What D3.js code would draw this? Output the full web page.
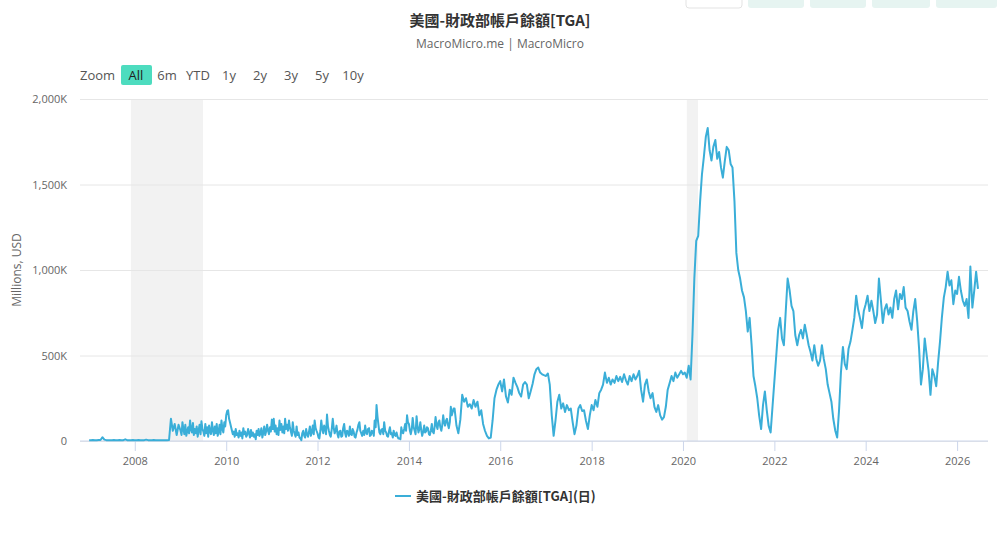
<!DOCTYPE html>
<html>
<head>
<meta charset="utf-8">
<script src="https://d3js.org/d3.v7.min.js"></script>
<style>
  body { margin: 0; background: #fff; }
  svg { display: block; font-family: "Noto Sans CJK TC", "Open Sans", sans-serif; }
</style>
</head>
<body>
<svg id="chart"></svg>
<script>
// readings in billions (K of millions); 24 values = half-monthly, 48 = weekly
var tga2007 = [5,5,6,5,5,6,6,22,8,5,5,5,5,6,5,5,6,5,5,10,5,5,5,6];
var tga2008 = [5,5,6,5,5,5,8,5,5,5,6,5,5,5,5,5,5,5,6,130,60,100,35,95];
var tga2009 = [60,35,110,70,40,95,30,55,80,45,120,65,50,105,35,70,45,85,25,60,95,40,115,70,
               55,30,100,45,80,25,90,55,40,110,60,35,85,45,100,30,55,95,40,120,70,50,110,85];
var tga2010 = [150,175,180,130,110,85,60,40,55,25,70,35,45,20,60,30,50,15,75,40,55,25,35,70,
               45,20,65,30,50,25,40,10,60,35,70,30,45,75,20,50,85,35,55,95,60,40,80,55];
var tga2011 = [125,70,130,55,90,40,75,35,120,65,100,50,85,45,130,70,95,60,120,80,55,30,110,60,
               40,25,85,35,50,20,15,5,45,60,30,20,70,40,25,55,85,30,50,90,40,120,75,60];
var tga2012 = [45,20,15,60,120,70,45,90,75,40,155,85,60,35,25,70,130,80,45,60,90,40,20,55,
               60,25,30,75,100,45,25,60,55,30,85,40,35,70,55,25,20,50,65,95,110,60,45,30];
var tga2013 = [60,35,90,50,40,70,75,30,35,60,55,30,120,80,210,140,90,50,40,65,70,40,110,60,
               50,30,25,55,80,40,45,20,60,35,30,50,25,15,15,10,80,50,45,70,100,60,150,110];
var tga2014 = [100,60,40,70,135,80,60,40,145,90,50,70,110,60,30,55,90,50,55,80,75,40,35,60,
               100,55,45,80,140,90,70,110,120,80,60,90,150,110,90,120,130,95,75,110,200,150,170,190];
var tga2015 = [190,90,45,125,270,230,250,200,215,190,240,200,230,150,180,100,60,30,15,20,120,250,300,330];
var tga2016 = [350,290,360,260,225,300,270,370,340,315,280,260,330,345,330,250,290,335,390,420,430,400,390,385];
var tga2017 = [380,395,330,150,30,120,230,270,190,220,170,210,180,190,110,40,90,190,210,175,180,120,70,150];
var tga2018 = [210,180,240,200,280,300,330,400,340,370,330,360,340,380,350,375,345,390,355,330,380,350,390,360];
var tga2019 = [380,410,300,230,330,360,290,250,280,200,170,210,150,125,140,200,300,340,380,350,400,370,390,410];
var tga2020 = [390,400,370,440,360,620,950,1170,1200,1400,1560,1660,1780,1830,1700,1640,1720,1760,1650,1690,1600,1540,1640,1720];
var tga2021 = [1700,1620,1600,1400,1100,1000,950,880,840,760,640,720,560,380,320,250,150,70,210,290,180,90,50,200];
var tga2022 = [350,500,650,720,600,560,760,950,880,790,760,620,560,620,650,600,680,620,560,520,470,560,480,440];
var tga2023 = [470,560,480,420,330,280,230,130,60,20,180,400,550,450,420,540,580,650,720,850,770,720,660,760];
var tga2024 = [800,850,760,820,760,690,740,950,820,690,770,800,740,780,720,830,880,770,860,830,900,780,760,700];
var tga2025 = [650,760,830,700,540,330,420,600,500,410,270,420,380,320,460,580,720,840,900,990,910,940,800,880];
var tga2026 = [860,960,880,820,790,830,720,1020,780,880,990,890];

var years = [2007,2008,2009,2010,2011,2012,2013,2014,2015,2016,2017,2018,2019,2020,2021,2022,2023,2024,2025,2026];
var yearValues = [tga2007,tga2008,tga2009,tga2010,tga2011,tga2012,tga2013,tga2014,tga2015,tga2016,
                  tga2017,tga2018,tga2019,tga2020,tga2021,tga2022,tga2023,tga2024,tga2025,tga2026];

var recessions = [["2007-12-01","2009-06-30"],["2020-02-01","2020-04-30"]];
var yTicks = [0, 500, 1000, 1500, 2000];
var xTickYears = [2008,2010,2012,2014,2016,2018,2020,2022,2024,2026];
var zoomButtons = ["All","6m","YTD","1y","2y","3y","5y","10y"];

var title = "美國-財政部帳戶餘額[TGA]";
var subtitle = "MacroMicro.me | MacroMicro";
var seriesName = "美國-財政部帳戶餘額[TGA](日)";

// build the table: values spread evenly through each year
var data = [];
years.forEach(function (yr, k) {
    var vals = yearValues[k];
    var step = vals.length === 48 ? 365 / 48 : 365 / 24;
    vals.forEach(function (v, i) {
        data.push({date: d3.timeDay.offset(new Date(yr, 0, 1), Math.round(i * step)), value: v});
    });
});

var width = 1000, height = 543;
var margin = {left: 80, right: 12, top: 99, bottom: 102};
var lineColor = "#3aaed8";

var svg = d3.select("#chart").attr("width", width).attr("height", height);

var x = d3.scaleTime()
    .domain([new Date(2006, 9, 20), new Date(2026, 8, 5)])
    .range([margin.left, width - margin.right]);
var y = d3.scaleLinear()
    .domain([0, 2000])
    .range([height - margin.bottom, margin.top]);

// top right toolbar remnants
var tb = [[686, 56, "#fff", "#e3e3e3"], [748, 56, "#e6f4f1", "none"], [810, 56, "#e6f4f1", "none"],
          [872, 58, "#e6f4f1", "none"], [936, 61, "#e6f4f1", "none"]];
svg.selectAll("rect.tb").data(tb).enter().append("rect")
    .attr("class", "tb")
    .attr("x", function (d) { return d[0]; }).attr("y", -6)
    .attr("width", function (d) { return d[1]; }).attr("height", 14)
    .attr("rx", 3)
    .attr("fill", function (d) { return d[2]; })
    .attr("stroke", function (d) { return d[3]; });

// titles
svg.append("text").attr("x", 500).attr("y", 26).attr("text-anchor", "middle")
    .attr("font-size", 15).attr("font-weight", 700).attr("fill", "#333").text(title);
svg.append("text").attr("x", 500).attr("y", 48).attr("text-anchor", "middle")
    .attr("font-size", 12).attr("fill", "#666").attr("font-family", "'Open Sans', sans-serif").text(subtitle);

// zoom row
var zg = svg.append("g").attr("font-family", "'Open Sans', sans-serif").attr("font-size", 13);
zg.append("text").attr("x", 80).attr("y", 80).attr("fill", "#555").text("Zoom");
var zx = [136, 167, 198, 229, 260, 291, 322, 353];
zg.append("rect").attr("x", 121).attr("y", 65).attr("width", 31).attr("height", 20).attr("rx", 2).attr("fill", "#4ddcbf");
zg.selectAll("text.zb").data(zoomButtons).enter().append("text")
    .attr("class", "zb")
    .attr("x", function (d, i) { return zx[i]; }).attr("y", 80)
    .attr("text-anchor", "middle")
    .attr("fill", function (d, i) { return i === 0 ? "#222" : "#555"; })
    .text(function (d) { return d; });

// recession bands
svg.selectAll("rect.rec").data(recessions).enter().append("rect")
    .attr("class", "rec")
    .attr("x", function (d) { return x(new Date(d[0])); })
    .attr("width", function (d) { return x(new Date(d[1])) - x(new Date(d[0])); })
    .attr("y", margin.top).attr("height", y(0) - margin.top)
    .attr("fill", "#f2f2f2");

// grid + y labels
var yAxis = d3.axisLeft(y).tickValues(yTicks)
    .tickSize(-(width - margin.left - margin.right))
    .tickFormat(function (d) { return d === 0 ? "0" : d3.format(",")(d) + "K"; });
var gy = svg.append("g").attr("transform", "translate(" + margin.left + ",0)").call(yAxis);
gy.select(".domain").remove();
gy.selectAll(".tick line").attr("stroke", "#e6e6e6");
gy.selectAll(".tick text").attr("x", -13).attr("fill", "#666").attr("font-size", 11)
    .attr("font-family", "'Open Sans', sans-serif");

svg.append("text")
    .attr("transform", "translate(21," + ((margin.top + y(0)) / 2) + ") rotate(-90)")
    .attr("text-anchor", "middle").attr("font-size", 12).attr("fill", "#666")
    .attr("font-family", "'Open Sans', sans-serif").text("Millions, USD");

// x axis
var xAxis = d3.axisBottom(x)
    .tickValues(xTickYears.map(function (yr) { return new Date(yr, 0, 1); }))
    .tickSize(10).tickPadding(6)
    .tickFormat(d3.timeFormat("%Y"));
var gx = svg.append("g").attr("transform", "translate(0," + y(0) + ")").call(xAxis);
gx.select(".domain").attr("stroke", "#ccd6eb").attr("d", "M" + margin.left + ",0H" + (width - margin.right));
gx.selectAll(".tick line").attr("stroke", "#ccd6eb");
gx.selectAll(".tick text").attr("fill", "#666").attr("font-size", 11)
    .attr("font-family", "'Open Sans', sans-serif");

// series
var line = d3.line()
    .x(function (d) { return x(d.date); })
    .y(function (d) { return y(d.value); });
svg.append("path").datum(data)
    .attr("fill", "none").attr("stroke", lineColor).attr("stroke-width", 2)
    .attr("stroke-linejoin", "round")
    .attr("d", line);

// legend
var lg = svg.append("g").attr("transform", "translate(395,496)");
lg.append("line").attr("x1", 0).attr("x2", 16).attr("stroke", lineColor).attr("stroke-width", 2);
lg.append("text").attr("x", 21).attr("y", 5).attr("font-size", 13).attr("font-weight", 700)
    .attr("fill", "#333").text(seriesName);
</script>
</body>
</html>
